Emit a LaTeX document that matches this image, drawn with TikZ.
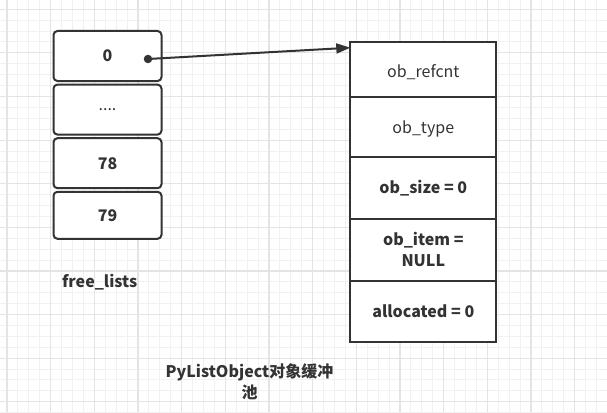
\documentclass[tikz,border=0pt]{standalone}
\usepackage{fontspec}
\setmainfont{Noto Sans CJK SC}
\usepackage{xcolor}
\definecolor{ink}{HTML}{333333}
\definecolor{gridfine}{HTML}{F1F1F1}
\definecolor{gridbold}{HTML}{E4E4E4}
\usepackage{tikz}
\usetikzlibrary{arrows.meta, positioning}

\tikzset{
  txt/.style={text=ink, font=\fontsize{16}{21}\selectfont},
  slot/.style={txt, draw=ink, fill=white, line width=2pt, rounded corners=4pt,
    minimum width=108pt, minimum height=50pt, inner sep=0pt},
  field/.style={txt, draw=ink, fill=white, line width=2pt, outer sep=0pt,
    minimum width=146pt, inner sep=0pt, align=center},
  finegrid/.style={draw=gridfine, line width=1pt},
  boldgrid/.style={draw=gridbold, line width=1.2pt},
  dot/.style={circle, fill=ink, inner sep=0pt, minimum size=8.5pt},
  ptr/.style={draw=ink, line width=2pt, -{Triangle[length=14pt, width=10pt]}},
}

\begin{document}
\begin{tikzpicture}[x=1pt, y=-1pt]
  \useasboundingbox[fill=white] (0,0) rectangle (607,412);

  % --- Grid ---
  \foreach \k in {0,...,55} \draw[finegrid] ({7+10.917*\k},0) -- ++(0,412);
  \foreach \k in {0,...,37} \draw[finegrid] (0,{9.3+10.9*\k}) -- ++(607,0);
  \foreach \k in {0,...,13} \draw[boldgrid] ({7+43.67*\k},0) -- ++(0,412);
  \foreach \k in {0,...,9} \draw[boldgrid] (0,{9.3+43.6*\k}) -- ++(607,0);

  % --- free_lists ---
  \node[slot] (slot0) at (107.5, 56) {\textbf{0}};
  \node[slot, below=1.6pt of slot0] (slot1) {....};
  \node[slot, below=1.6pt of slot1] (slot2) {\textbf{78}};
  \node[slot, below=1.6pt of slot2, minimum height=47pt] (slot3) {\textbf{79}};
  \node[txt] (freelists) at (99.7, 281.7) {\textbf{free\_lists}};

  % --- PyListObject ---
  \node[field, minimum height=55pt, text height=17pt, text depth=1pt] (refcnt) at (423.3, 69.2) {ob\_refcnt};
  \node[field, minimum height=60pt, text height=16pt, text depth=2.8pt, below=0pt of refcnt] (type) {ob\_type};
  \node[field, minimum height=62.3pt, below=0pt of type] (size) {\textbf{ob\_size = 0}};
  \node[field, minimum height=61.7pt, below=0pt of size] (item) {\textbf{ob\_item =}\\\textbf{NULL}};
  \node[field, minimum height=61pt, below=0pt of item] (alloc) {\textbf{allocated = 0}};

  \node[txt, align=center] (caption) at (249.5, 381.5) {\textbf{PyListObject对象缓冲}\\\textbf{池}};

  % --- pointer ---
  \node[dot] (head) at (148, 59) {};
  \draw[ptr] (head.center) -- ([yshift=-6pt]refcnt.north west);
\end{tikzpicture}
\end{document}
